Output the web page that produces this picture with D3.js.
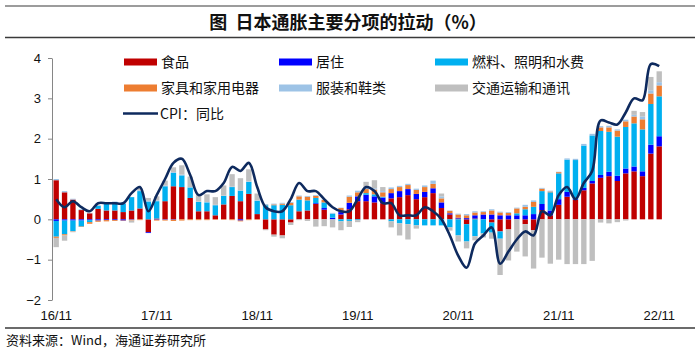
<!DOCTYPE html>
<html><head><meta charset="utf-8">
<script src="https://cdn.jsdelivr.net/npm/d3@7"></script>
<style>body{margin:0;background:#fff}</style>
</head><body><svg id="c" width="700" height="355"></svg>
<script>
const titleText = "图\u00a0\u00a0日本通胀主要分项的拉动（%）";
const sourceText = "资料来源：Wind，海通证券研究所";
const seriesNames = ["食品","居住","燃料、照明和水费","家具和家用电器","服装和鞋类","交通运输和通讯"];
const seriesColors = ["#C00000","#0000FF","#00B0F0","#ED7D31","#9DC3E6","#BFBFBF"];
const lineName = "CPI：同比";
const lineColor = "#0E2A5E";
const yTicks = [-2,-1,0,1,2,3,4];
const xTickLabels = ["16/11","17/11","18/11","19/11","20/11","21/11","22/11"];
const startMonth = new Date(2016,10,1), endMonth = new Date(2022,11,1);

const food = [0.97,0.67,0.49,0.23,0.15,0.26,0.22,0.22,0.18,0.22,0.27,-0.32,0.02,0.45,0.82,0.80,0.53,0.20,0.20,0.10,0.37,0.58,0.45,0.63,0.13,-0.25,-0.38,-0.40,-0.08,0.20,0.22,0.38,0.24,0.00,0.12,0.25,0.45,0.45,0.42,0.40,0.52,0.55,0.60,0.50,0.55,0.65,0.28,0.12,0.02,-0.12,0.02,0.00,-0.08,-0.30,-0.25,0.00,-0.12,-0.27,0.23,0.10,0.36,0.56,0.48,0.72,0.89,1.03,1.07,0.95,1.14,1.19,1.07,1.63,1.81];
const housing = [-0.04,-0.03,-0.03,-0.03,-0.02,-0.03,-0.02,-0.02,-0.03,-0.01,0.00,-0.02,-0.01,-0.01,-0.01,0.00,0.00,0.00,0.00,0.00,0.00,0.00,-0.03,0.00,0.00,0.00,0.00,0.00,0.00,0.00,0.00,0.02,0.04,0.04,0.06,0.16,0.12,0.16,0.15,0.14,0.13,0.15,0.15,0.13,0.13,0.12,0.14,0.03,0.02,0.03,0.08,0.12,0.12,0.10,0.10,0.10,0.10,0.13,0.15,0.12,0.14,0.12,0.02,0.06,0.06,0.07,0.11,0.13,0.12,0.12,0.12,0.22,0.25];
const fuel = [-0.39,-0.34,-0.26,-0.15,-0.05,0.07,0.16,0.21,0.21,0.33,0.43,0.44,0.43,0.37,0.33,0.29,0.26,0.23,0.22,0.25,0.21,0.22,0.26,0.30,0.33,0.35,0.35,0.36,0.35,0.29,0.25,0.13,0.14,0.10,-0.05,-0.04,-0.02,0.04,0.05,0.02,-0.05,-0.10,-0.12,-0.15,-0.15,-0.15,-0.15,-0.20,-0.40,-0.43,-0.42,-0.35,-0.25,-0.18,0.00,0.05,0.15,0.18,0.32,0.45,0.64,0.80,0.97,1.05,1.13,1.09,0.99,0.97,1.03,1.07,1.04,1.01,0.99];
const furniture = [-0.03,-0.03,-0.01,-0.01,-0.04,-0.03,-0.03,-0.02,-0.01,-0.02,-0.02,0.00,-0.02,-0.02,-0.03,-0.03,-0.02,-0.02,-0.02,-0.01,-0.01,-0.02,-0.02,-0.02,-0.01,0.01,0.02,0.03,0.06,0.08,0.09,0.05,0.06,0.00,0.10,0.15,0.10,0.10,0.12,0.11,0.10,0.10,0.10,0.10,0.12,0.11,0.10,0.06,0.08,0.07,0.07,0.06,0.10,0.07,0.06,0.12,0.06,0.12,0.06,0.02,0.03,0.00,0.00,0.00,0.00,0.09,0.11,0.15,0.14,0.17,0.25,0.26,0.27];
const clothing = [0.03,0.03,0.02,0.02,0.01,0.02,0.02,0.01,0.02,0.00,0.02,0.02,0.02,0.02,0.02,0.02,0.01,0.01,0.01,0.01,0.01,0.01,0.01,0.01,0.01,0.02,0.02,0.02,0.02,0.02,0.02,0.02,0.01,0.02,0.01,0.03,0.04,0.03,0.03,0.03,0.04,0.03,0.03,0.03,0.04,0.08,0.05,0.01,0.02,0.03,0.03,0.02,0.03,0.02,0.02,0.02,0.05,0.04,0.02,0.02,0.01,0.03,0.03,0.04,0.04,0.03,0.04,0.03,0.04,0.04,0.07,0.08,0.08];
const transport = [-0.23,-0.13,-0.02,0.00,0.00,0.00,0.00,0.00,0.00,-0.05,0.06,0.07,0.10,0.12,0.12,0.23,0.26,0.16,0.19,0.19,0.25,0.31,0.30,0.30,0.17,-0.02,-0.05,-0.07,-0.06,-0.02,-0.04,-0.18,-0.17,-0.20,-0.22,-0.15,-0.05,0.15,0.20,0.10,-0.15,-0.30,-0.38,-0.08,0.00,0.00,0.07,-0.08,-0.15,-0.17,-0.10,-0.10,-0.15,-0.90,-0.77,-0.80,-0.80,-0.95,-0.95,-1.10,-1.00,-1.11,-1.11,-1.11,-1.03,-0.08,-0.10,-0.07,-0.03,0.10,0.11,0.33,0.27];
const cpi = [0.5,0.3,0.45,0.3,0.2,0.4,0.4,0.4,0.4,0.65,0.8,0.2,0.6,1.0,1.4,1.5,1.1,0.6,0.7,0.7,0.9,1.3,1.2,1.4,0.8,0.3,0.2,0.2,0.5,0.9,0.7,0.7,0.5,0.3,0.2,0.2,0.5,0.8,0.7,0.4,0.4,0.1,0.1,0.1,0.3,0.2,0.0,-0.4,-0.9,-1.2,-0.6,-0.4,-0.2,-1.1,-0.8,-0.5,-0.3,-0.4,0.2,0.1,0.6,0.8,0.5,0.9,1.2,2.45,2.4,2.35,2.65,3.0,2.95,3.85,3.8];

const seriesValues = [food, housing, fuel, furniture, clothing, transport];
const fmt = d3.timeFormat("%y/%m");
const months = d3.timeMonth.range(startMonth, endMonth).map(fmt);

const rows = months.map((m, i) => {
  const r = {month: m};
  seriesNames.forEach((n, k) => r[n] = seriesValues[k][i]);
  return r;
});

const svg = d3.select("#c");
svg.append("rect").attr("width",700).attr("height",355).attr("fill","#fff");

const cjk = "'Noto Sans CJK SC','Noto Sans',sans-serif";
const latin = "'Liberation Sans',Arial,sans-serif";

// title block
svg.append("line").attr("x1",5).attr("x2",695).attr("y1",6).attr("y2",6).attr("stroke","#3a3a3a").attr("stroke-width",1.2);
svg.append("line").attr("x1",5).attr("x2",695).attr("y1",37.5).attr("y2",37.5).attr("stroke","#3a3a3a").attr("stroke-width",1.6);
svg.append("text").attr("x",348).attr("y",29).attr("text-anchor","middle")
  .attr("font-family",cjk).attr("font-size",18).attr("font-weight",600).attr("fill","#111").text(titleText);

const x = d3.scaleBand().domain(months).range([52, 663.4]).paddingInner(0.36).paddingOuter(0.18);
const y = d3.scaleLinear().domain([-2,4]).range([300,58]);

const stack = d3.stack().keys(seriesNames).offset(d3.stackOffsetDiverging);
const stacked = stack(rows);

const gBars = svg.append("g");
stacked.forEach((layer, k) => {
  gBars.append("g").attr("fill", seriesColors[k])
    .selectAll("rect").data(layer).join("rect")
    .attr("x", d => x(d.data.month))
    .attr("width", x.bandwidth())
    .attr("y", d => y(Math.max(d[0], d[1])))
    .attr("height", d => Math.abs(y(d[0]) - y(d[1])));
});

// CPI line
const line = d3.line()
  .x((d, i) => x(months[i]) + x.bandwidth()/2)
  .y(d => y(d))
  .curve(d3.curveCatmullRom.alpha(0.5));
svg.append("path").datum(cpi).attr("d", line).attr("fill","none")
  .attr("stroke", lineColor).attr("stroke-width", 2.6).attr("stroke-linejoin","round");

// y axis
const yAxis = svg.append("g").attr("transform","translate(52,0)")
  .call(d3.axisLeft(y).tickValues(yTicks).tickSize(4).tickSizeOuter(0).tickPadding(7).tickFormat(d3.format("d")));
yAxis.select(".domain").attr("stroke","#868686");
yAxis.selectAll(".tick line").attr("stroke","#868686");
yAxis.selectAll("text").attr("font-family",latin).attr("font-size",13).attr("fill","#111");

// x axis labels
const xAxis = svg.append("g").attr("transform","translate(0,301)")
  .call(d3.axisBottom(x).tickValues(xTickLabels).tickSize(0).tickPadding(10));
xAxis.select(".domain").remove();
xAxis.selectAll("text").attr("font-family",latin).attr("font-size",13).attr("fill","#111");

// legend
const legendPos = [[124,62],[279,62],[435,62],[124,88],[279,88],[435,88]];
seriesNames.forEach((n, k) => {
  const [lx, ly] = legendPos[k];
  svg.append("rect").attr("x",lx).attr("y",ly-3.5).attr("width",33).attr("height",7).attr("fill",seriesColors[k]);
  svg.append("text").attr("x",lx+37).attr("y",ly+5).attr("font-family",cjk).attr("font-size",14).attr("fill","#111").text(n);
});
svg.append("line").attr("x1",123).attr("x2",158).attr("y1",113.5).attr("y2",113.5).attr("stroke",lineColor).attr("stroke-width",2.6);
svg.append("text").attr("x",160).attr("y",118.5).attr("font-family",cjk).attr("font-size",14).attr("fill","#111").text(lineName);

// bottom
svg.append("line").attr("x1",5).attr("x2",695).attr("y1",328).attr("y2",328).attr("stroke","#3a3a3a").attr("stroke-width",1.6);
svg.append("text").attr("x",6).attr("y",345).attr("font-family",cjk).attr("font-size",13).attr("fill","#111").text(sourceText);
</script></body></html>
